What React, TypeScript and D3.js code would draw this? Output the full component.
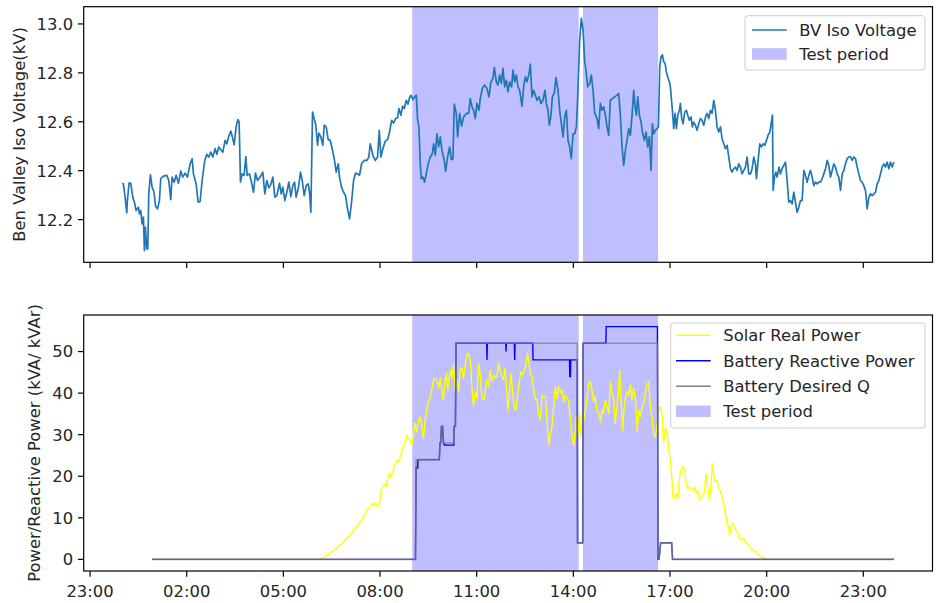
import React from 'react';
import * as d3 from 'd3';

// ---------- DATA (hours since midnight of the plotted day) ----------
const voltHours = [
  0.0,0.035,0.087,0.139,0.159,0.211,0.263,0.325,0.377,0.428,0.501,0.532,0.573,0.615,0.656,0.687,0.718,0.76,0.791,0.822,0.874,0.925,0.987,1.029,1.091,1.153,1.194,1.277,1.381,1.443,1.505,1.546,1.609,1.671,1.743,1.816,1.878,1.95,2.023,2.105,2.168,2.209,2.292,2.354,2.416,2.478,2.561,2.623,2.685,2.747,2.809,2.882,2.934,2.996,3.058,3.12,3.192,3.244,3.296,3.368,3.43,3.472,3.534,3.586,3.627,3.669,3.72,3.782,3.834,3.876,3.948,4.01,4.072,4.134,4.197,4.279,4.362,4.424,4.487,4.549,4.611,4.673,4.735,4.797,4.88,4.932,4.983,5.045,5.108,5.17,5.232,5.294,5.346,5.397,5.47,5.532,5.584,5.646,5.708,5.77,5.812,5.853,5.905,5.956,6.008,6.06,6.101,6.163,6.225,6.267,6.329,6.391,6.453,6.515,6.578,6.64,6.702,6.743,6.805,6.867,6.929,6.992,7.054,7.116,7.178,7.24,7.302,7.364,7.426,7.509,7.592,7.654,
  7.696,7.779,7.851,7.924,7.976,8.027,8.089,8.162,8.234,8.296,8.359,8.421,8.483,8.545,8.586,8.648,8.7,8.752,8.814,8.866,8.917,8.959,9.021,9.073,9.125,9.166,9.207,9.249,9.28,9.332,9.383,9.435,9.508,9.559,9.622,9.663,9.715,9.766,9.818,9.87,9.922,9.994,10.036,10.098,10.16,10.212,10.263,10.305,10.367,10.408,10.47,10.532,10.595,10.677,10.75,10.802,10.853,10.905,10.957,11.009,11.071,11.112,11.174,11.247,11.319,11.381,11.443,11.505,11.547,11.609,11.661,11.712,11.764,11.816,11.868,11.92,11.971,12.023,12.085,12.127,12.178,12.23,12.282,12.334,12.406,12.458,12.51,12.561,12.624,12.665,12.717,12.768,12.82,12.872,12.934,12.996,13.058,13.12,13.162,13.213,13.255,13.307,13.348,13.41,13.462,13.524,13.576,13.628,13.679,13.731,13.783,13.835,13.886,13.938,13.99,14.042,14.094,14.135,14.197,14.249,14.301,14.352,14.394,14.445,14.508,14.559,14.611,14.663,14.735,14.787,14.839,14.89,14.942,14.994,15.046,15.098,15.149,15.212,15.284,15.356,15.408,15.46,15.512,15.563,15.615,15.667,15.719,
  15.77,15.822,15.874,15.915,15.956,15.998,16.05,16.101,16.153,16.205,16.257,16.308,16.36,16.412,16.453,16.495,16.546,16.598,16.64,16.681,16.722,16.764,16.805,16.847,16.888,16.929,16.981,17.012,17.074,17.116,17.157,17.199,17.24,17.292,17.323,17.364,17.406,17.457,17.509,17.551,17.602,17.654,17.695,17.737,17.789,17.84,17.892,17.944,17.996,18.047,18.11,18.151,18.203,18.254,18.306,18.358,18.41,18.461,18.513,18.565,18.617,18.668,18.72,18.772,18.824,18.876,18.927,18.979,19.031,19.083,19.134,19.186,19.238,19.29,19.341,19.393,19.445,19.497,19.548,19.6,19.652,19.683,19.735,19.787,19.838,19.89,19.942,19.994,20.045,20.097,20.139,20.18,20.201,20.242,20.284,20.325,20.387,20.428,20.48,20.532,20.584,20.635,20.687,20.739,20.791,20.843,20.894,20.946,20.998,21.05,21.101,21.153,21.205,21.257,21.308,21.36,21.412,21.464,21.515,21.567,21.619,21.671,21.722,21.774,21.826,21.878,21.929,21.981,22.033,22.085,22.136,22.188,22.24,22.292,22.344,22.395,22.447,22.499,22.551,22.602,22.654,22.706,22.758,22.809,22.861,22.913,22.965,23.016,23.068,23.12,23.172,23.223,23.275,23.327,23.378,23.43,23.482,23.534,23.586,23.637,23.689,23.741,23.793,23.844,23.896,23.95
];
const voltKV = [
  12.349,12.346,12.292,12.227,12.278,12.349,12.349,12.292,12.271,12.237,12.251,12.223,12.237,12.182,12.21,12.073,12.169,12.08,12.08,12.305,12.383,12.333,12.312,12.257,12.244,12.278,12.367,12.378,12.381,12.36,12.282,12.374,12.353,12.381,12.349,12.398,12.374,12.39,12.374,12.428,12.449,12.387,12.346,12.271,12.274,12.36,12.442,12.467,12.456,12.476,12.456,12.49,12.467,12.497,12.486,12.476,12.524,12.51,12.538,12.562,12.531,12.506,12.579,12.609,12.599,12.353,12.387,12.381,12.458,12.381,12.387,12.353,12.312,12.39,12.36,12.374,12.394,12.305,12.36,12.33,12.344,12.374,12.292,12.298,12.349,12.305,12.333,12.278,12.312,12.353,12.294,12.339,12.353,12.292,12.333,12.394,12.36,12.298,12.339,12.346,12.312,12.23,12.64,12.613,12.586,12.504,12.554,12.538,12.504,12.586,12.579,12.527,12.524,12.49,12.449,12.394,12.428,12.374,12.333,12.312,12.298,12.244,12.203,12.271,12.36,12.39,12.387,12.381,12.428,12.442,12.442,12.456,
  12.51,12.463,12.442,12.456,12.565,12.456,12.49,12.521,12.527,12.558,12.606,12.595,12.613,12.617,12.654,12.627,12.664,12.654,12.688,12.672,12.699,12.709,12.691,12.702,12.709,12.609,12.579,12.428,12.367,12.374,12.353,12.387,12.435,12.456,12.469,12.51,12.463,12.551,12.497,12.538,12.483,12.442,12.398,12.456,12.497,12.445,12.449,12.672,12.634,12.538,12.634,12.582,12.62,12.634,12.634,12.695,12.661,12.647,12.613,12.675,12.647,12.695,12.736,12.75,12.736,12.702,12.763,12.777,12.822,12.763,12.75,12.791,12.757,12.818,12.743,12.77,12.722,12.763,12.743,12.811,12.763,12.791,12.743,12.729,12.664,12.743,12.784,12.763,12.798,12.836,12.702,12.729,12.709,12.688,12.702,12.675,12.688,12.729,12.675,12.647,12.586,12.627,12.702,12.718,12.781,12.729,12.647,12.592,12.538,12.62,12.647,12.524,12.497,12.449,12.551,12.551,12.579,12.702,12.934,13.023,12.975,12.845,12.811,12.743,12.757,12.791,12.729,12.634,12.613,12.572,12.675,12.647,12.661,12.627,12.579,12.545,12.688,12.695,12.702,12.709,12.716,12.627,12.497,12.422,12.483,12.524,12.572,
  12.545,12.627,12.729,12.661,12.627,12.702,12.627,12.599,12.551,12.524,12.558,12.497,12.538,12.401,12.592,12.551,12.565,12.572,12.579,12.825,12.866,12.873,12.845,12.839,12.804,12.784,12.763,12.743,12.647,12.572,12.634,12.572,12.627,12.647,12.675,12.613,12.592,12.64,12.647,12.627,12.606,12.62,12.579,12.599,12.586,12.565,12.592,12.613,12.606,12.586,12.623,12.634,12.613,12.647,12.634,12.688,12.647,12.579,12.558,12.579,12.531,12.51,12.49,12.504,12.456,12.408,12.394,12.408,12.415,12.401,12.428,12.415,12.387,12.401,12.415,12.456,12.387,12.387,12.408,12.456,12.428,12.367,12.442,12.51,12.497,12.51,12.504,12.524,12.545,12.558,12.592,12.627,12.319,12.374,12.394,12.374,12.415,12.387,12.408,12.422,12.435,12.36,12.271,12.278,12.264,12.312,12.271,12.23,12.251,12.278,12.278,12.401,12.381,12.353,12.381,12.401,12.374,12.339,12.353,12.346,12.353,12.353,12.367,12.387,12.408,12.442,12.422,12.374,12.401,12.428,12.415,12.387,12.374,12.319,12.387,12.401,12.428,12.449,12.456,12.458,12.442,12.456,12.449,12.415,12.387,12.36,12.353,12.339,12.319,12.244,12.292,12.305,12.298,12.305,12.312,12.346,12.36,12.387,12.415,12.428,12.415,12.435,12.408,12.435,12.415,12.435
];

const solarHours = [
  0.93,6.0,6.09,6.25,6.4,6.56,6.71,6.82,6.97,7.07,7.18,7.3,7.39,7.49,7.59,7.7,7.75,7.8,7.85,7.92,7.99,8.04,8.09,8.14,8.19,8.24,8.3,8.34,8.4,8.45,8.52,8.58,8.63,8.68,8.73,8.78,8.83,8.89,8.94,8.99,9.04,9.09,9.14,9.2,9.25,9.3,9.35,9.4,9.46,9.51,9.56,9.61,9.66,9.71,9.77,9.82,9.87,9.92,9.97,10.0,10.06,10.1,10.15,10.2,10.23,10.28,10.34,10.39,10.44,10.49,10.54,10.59,10.65,10.7,10.75,10.8,10.85,10.9,10.96,11.01,11.06,11.11,11.16,11.22,
  11.27,11.32,11.37,11.42,11.47,11.53,11.58,11.63,11.68,11.73,11.78,11.84,11.87,11.92,11.97,12.01,12.06,12.12,12.17,12.22,12.27,12.32,12.37,12.43,12.48,12.53,12.58,12.61,12.66,12.72,12.77,12.82,12.87,12.92,12.97,13.03,13.08,13.13,13.18,13.23,13.29,13.34,13.39,13.44,13.49,13.54,13.6,13.65,13.7,13.75,13.8,13.85,13.91,13.96,14.01,14.06,14.09,14.12,14.17,14.2,14.24,14.27,14.32,14.37,14.42,14.48,14.53,14.58,14.63,14.68,14.73,14.79,14.84,14.89,14.94,14.99,15.05,15.1,15.15,15.2,15.25,15.3,15.34,15.39,15.44,15.49,15.53,15.57,15.61,15.67,15.72,15.77,15.82,15.87,15.93,15.98,16.03,16.08,16.13,16.18,16.24,16.29,16.34,16.39,16.44,16.5,16.55,16.6,
  16.65,16.7,16.75,16.8,16.86,16.91,16.96,17.01,17.06,17.09,17.14,17.19,17.24,17.29,17.34,17.4,17.45,17.5,17.55,17.6,17.65,17.71,17.76,17.81,17.86,17.91,17.96,18.02,18.07,18.12,18.17,18.22,18.28,18.31,18.36,18.41,18.46,18.51,18.56,18.62,18.67,18.72,18.77,18.82,18.85,18.9,18.95,19.0,19.05,19.1,19.13,19.19,19.24,19.29,19.34,19.39,19.45,19.5,19.6,19.7,19.81,19.91,20.0,23.95
];
const solarKVA = [
  0,0,0,0.4,1.2,2.2,3.0,3.8,5.0,5.8,7.0,8.2,9.0,10.2,11.8,12.6,13.4,13.0,13.6,12.6,13.6,17.0,17.4,18.2,17.4,19.5,20.7,19.9,21.1,22.3,23.9,23.5,24.7,25.9,27.3,28.3,29.9,29.1,28.5,27.5,29.9,32.7,30.7,33.5,34.3,31.9,29.1,33.5,36.3,37.9,39.1,40.8,43.2,43.6,42.8,41.2,43.6,40.8,38.3,42.0,44.8,40.8,44.4,45.6,43.6,46.8,40.8,43.2,40.4,45.6,46.0,43.6,47.2,49.2,49.6,48.0,41.6,37.1,40.4,38.7,47.2,44.4,39.1,38.3,
  40.8,43.2,41.6,45.6,42.8,44.4,43.6,44.0,47.2,45.2,44.0,43.2,46.0,42.8,35.9,38.7,44.8,40.0,36.7,35.9,39.5,42.4,45.2,44.4,45.6,46.8,49.6,48.0,44.8,44.0,40.8,38.7,38.3,35.1,33.5,39.5,39.1,39.3,34.3,27.5,30.3,31.9,36.7,41.6,38.7,41.6,40.0,40.8,37.9,39.5,38.7,38.3,33.5,29.5,27.5,31.1,34.3,29.5,32.7,35.1,29.5,31.1,33.5,35.9,38.3,42.4,42.8,40.8,37.9,39.1,35.9,35.5,33.1,35.9,35.1,38.3,36.7,35.1,42.8,40.0,39.1,32.7,35.9,39.1,45.6,36.7,31.1,35.9,38.7,40.4,39.5,42.0,38.3,41.2,38.3,30.7,35.9,34.3,36.7,37.5,40.4,42.0,42.8,36.7,34.3,29.9,29.5,32.3,
  35.9,36.7,35.1,27.9,31.5,30.3,26.7,23.9,19.5,15.0,14.6,15.8,14.6,19.1,21.5,22.3,21.9,18.6,17.0,17.4,17.0,16.6,17.4,15.8,16.6,14.2,14.6,15.4,16.2,20.7,17.4,14.2,18.2,23.1,19.9,18.6,19.0,17.4,16.6,15.0,13.4,11.0,8.6,7.8,5.8,8.2,8.6,7.8,7.0,6.6,5.4,4.6,5.0,5.0,4.2,3.8,3.4,2.6,2.2,1.4,0.8,0.4,0,0
];

const batteryHours = [0.93,9.10,9.12,9.17,9.18,9.84,9.86,9.88,9.91,9.94,9.97,10.00,10.29,10.30,10.34,10.36,11.31,11.32,11.33,11.90,11.91,11.92,12.17,12.18,12.19,12.74,12.75,13.88,13.89,13.91,13.92,14.12,14.13,14.29,14.30,15.01,15.02,16.61,16.63,16.66,16.71,17.05,17.08,23.95];
const batteryReactive = [0,0,22,22,24,24,28,28,32,32,28,27.5,27.5,32,32,52,52,48,52,52,50,52,52,48,52,52,48,48,44,44,48,48,4,4,52,52,56,56,0,0,4,4,0,0];

const desiredHours = [0.93,9.10,9.12,9.84,9.86,9.88,9.91,9.94,9.97,10.29,10.30,10.34,10.36,14.12,14.13,14.29,14.30,16.61,16.63,16.66,16.71,17.05,17.08,23.95];
const desiredQ = [0,0,24,24,28,28,32,32,28,28,32,32,52,52,4,4,52,52,0,0,4,4,0,0];

const testStart = [9.0, 14.30];
const testEnd = [14.165, 16.63];

const xTickHours = [-1, 2, 5, 8, 11, 14, 17, 20, 23];
const voltTicks = [12.2, 12.4, 12.6, 12.8, 13.0];
const powerTicks = [0, 10, 20, 30, 40, 50];

// ---------- helpers ----------
const BASE = new Date(2019, 0, 15, 0, 0, 0).getTime();
const toDate = (h: number) => new Date(BASE + h * 3600e3);
const pad = (ext: [number, number]) => {
  const m = (ext[1] - ext[0]) * 0.05;
  return [ext[0] - m, ext[1] + m] as [number, number];
};

const FONT = "'DejaVu Sans', sans-serif";
const FS = 16.4;
const TXT = '#262626';
const TICK = 5.7;

export default function App() {
  const left = 83.7, right = 932.5;
  const top1 = 6.7, bot1 = 262.3;
  const top2 = 315, bot2 = 571;

  const hExt = pad(d3.extent(voltHours) as [number, number]);
  const x = d3.scaleTime().domain([toDate(hExt[0]), toDate(hExt[1])]).range([left, right]);
  const y1 = d3.scaleLinear().domain(pad(d3.extent(voltKV) as [number, number])).range([bot1, top1]);
  const allP = [...solarKVA, ...batteryReactive, ...desiredQ];
  const y2 = d3.scaleLinear().domain(pad([d3.min(allP)!, d3.max(allP)!])).range([bot2, top2]);
  const fmt = d3.timeFormat('%H:%M');

  const mk = (hs: number[], vs: number[], ys: d3.ScaleLinear<number, number>) =>
    d3.line<number>().x((_, i) => x(toDate(hs[i]))).y((_, i) => ys(vs[i]))(hs.map((_, i) => i)) || '';

  const voltPath = mk(voltHours, voltKV, y1);
  const solarPath = mk(solarHours, solarKVA, y2);
  const battPath = mk(batteryHours, batteryReactive, y2);
  const desPath = mk(desiredHours, desiredQ, y2);

  const bands = (t: number, b: number) =>
    testStart.map((s, i) => (
      <rect key={i} x={x(toDate(s))} y={t} width={x(toDate(testEnd[i])) - x(toDate(s))} height={b - t} fill="rgb(191,191,255)" />
    ));

  const frame = (t: number, b: number) => (
    <rect x={left} y={t} width={right - left} height={b - t} fill="none" stroke="#000" strokeWidth={1.2} />
  );

  const xTicks = (b: number, labels: boolean) =>
    xTickHours.map((h) => {
      const px = x(toDate(h));
      return (
        <g key={h}>
          <line x1={px} x2={px} y1={b} y2={b + TICK} stroke="#000" strokeWidth={1.2} />
          {labels && (
            <text x={px} y={597} textAnchor="middle" fontFamily={FONT} fontSize={FS} fill={TXT}>
              {fmt(toDate(h))}
            </text>
          )}
        </g>
      );
    });

  const yTicks = (ticks: number[], ys: d3.ScaleLinear<number, number>, f: (v: number) => string) =>
    ticks.map((v) => (
      <g key={v}>
        <line x1={left - TICK} x2={left} y1={ys(v)} y2={ys(v)} stroke="#000" strokeWidth={1.2} />
        <text x={left - 10.6} y={ys(v)} dy="0.36em" textAnchor="end" fontFamily={FONT} fontSize={FS} fill={TXT}>
          {f(v)}
        </text>
      </g>
    ));

  const legendLine = (x0: number, yy: number, color: string, label: string, opacity = 1) => (
    <g key={label}>
      <line x1={x0} x2={x0 + 34.7} y1={yy} y2={yy} stroke={color} strokeWidth={1.6} strokeOpacity={opacity} />
      <text x={x0 + 47.3} y={yy} dy="0.36em" fontFamily={FONT} fontSize={FS} fill={TXT}>{label}</text>
    </g>
  );
  const legendPatch = (x0: number, yy: number, label: string) => (
    <g key={label}>
      <rect x={x0} y={yy - 5.8} width={34.7} height={11.6} fill="rgb(191,191,255)" />
      <text x={x0 + 47.3} y={yy} dy="0.36em" fontFamily={FONT} fontSize={FS} fill={TXT}>{label}</text>
    </g>
  );

  return (
    <svg width={937} height={603} style={{ position: 'absolute', left: 0, top: 0, background: '#fff' }}>
      <rect width={937} height={603} fill="#fff" />
      <defs>
        <clipPath id="c1"><rect x={left} y={top1} width={right - left} height={bot1 - top1} /></clipPath>
        <clipPath id="c2"><rect x={left} y={top2} width={right - left} height={bot2 - top2} /></clipPath>
      </defs>

      {/* top panel */}
      {bands(top1, bot1)}
      <path d={voltPath} fill="none" stroke="#1f77b4" strokeWidth={1.7} strokeLinejoin="round" clipPath="url(#c1)" />
      {frame(top1, bot1)}
      {xTicks(bot1, false)}
      {yTicks(voltTicks, y1, (v) => v.toFixed(1))}
      <text transform={`translate(19,${(top1 + bot1) / 2}) rotate(-90)`} textAnchor="middle" dy="0.36em" fontFamily={FONT} fontSize={FS} fill={TXT}>
        Ben Valley Iso Voltage(kV)
      </text>
      <g>
        <rect x={745} y={15.7} width={180} height={54.3} rx={2.8} fill="#fff" fillOpacity={0.8} stroke="#cccccc" strokeWidth={1} />
        {legendLine(752, 30, '#1f77b4', 'BV Iso Voltage')}
        {legendPatch(752, 54, 'Test period')}
      </g>

      {/* bottom panel */}
      {bands(top2, bot2)}
      <g clipPath="url(#c2)">
        <path d={solarPath} fill="none" stroke="#ffff00" strokeWidth={1.4} strokeLinejoin="round" />
        <path d={battPath} fill="none" stroke="#0000ff" strokeWidth={1.4} strokeLinejoin="miter" />
        <path d={desPath} fill="none" stroke="#808080" strokeOpacity={0.75} strokeWidth={1.6} strokeLinejoin="miter" />
      </g>
      {frame(top2, bot2)}
      {xTicks(bot2, true)}
      {yTicks(powerTicks, y2, (v) => String(v))}
      <text transform={`translate(34,${(top2 + bot2) / 2}) rotate(-90)`} textAnchor="middle" dy="0.36em" fontFamily={FONT} fontSize={FS} fill={TXT}>
        Power/Reactive Power (kVA/ kVAr)
      </text>
      <g>
        <rect x={670.7} y={323} width={254.3} height={105} rx={2.8} fill="#fff" fillOpacity={0.8} stroke="#cccccc" strokeWidth={1} />
        {legendLine(676, 335.3, '#ffff00', 'Solar Real Power')}
        {legendLine(676, 360.8, '#0000ff', 'Battery Reactive Power')}
        {legendLine(676, 386.2, '#808080', 'Battery Desired Q')}
        {legendPatch(676, 411.3, 'Test period')}
      </g>
    </svg>
  );
}
